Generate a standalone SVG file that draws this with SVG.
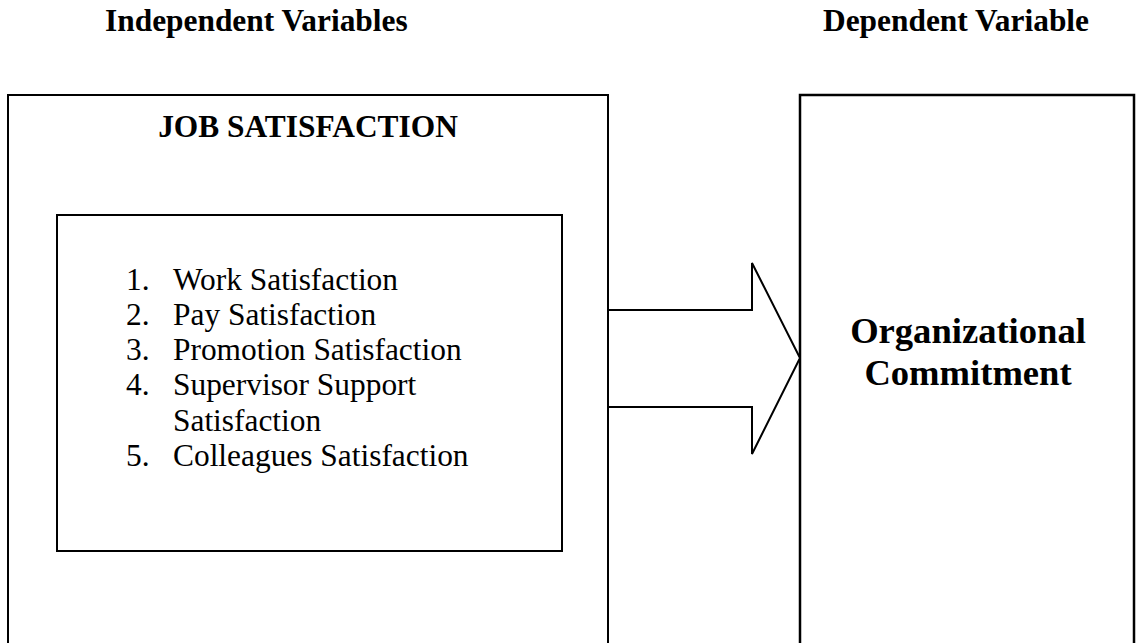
<svg xmlns="http://www.w3.org/2000/svg" width="1136" height="643" viewBox="0 0 1136 643">
<style>
.box{fill:#fff;stroke:#000;stroke-width:2}
.hdr{font-family:"Liberation Serif","Times New Roman",serif;font-weight:bold;font-size:31.4px;fill:#000}
.item{font-family:"Liberation Serif","Times New Roman",serif;font-size:31.4px;fill:#000}
.big{font-family:"Liberation Serif","Times New Roman",serif;font-weight:bold;font-size:36.6px;fill:#000}
</style>
<rect width="1136" height="643" fill="#fff"/>
<g id="headers">
<text class="hdr" x="105" y="31">Independent Variables</text>
<text class="hdr" x="1089" y="31" text-anchor="end">Dependent Variable</text>
</g>
<g id="job-satisfaction">
<rect class="box" x="8" y="95" width="600" height="560"/>
<text class="hdr" x="308" y="137" text-anchor="middle">JOB SATISFACTION</text>
</g>
<g id="dimensions">
<rect class="box" x="57" y="215" width="505" height="336"/>
<g class="item">
<text x="126" y="290">1.</text><text x="173" y="290">Work Satisfaction</text>
<text x="126" y="325">2.</text><text x="173" y="325">Pay Satisfaction</text>
<text x="126" y="360">3.</text><text x="173" y="360">Promotion Satisfaction</text>
<text x="126" y="395">4.</text><text x="173" y="395">Supervisor Support</text>
<text x="173" y="431">Satisfaction</text>
<text x="126" y="466">5.</text><text x="173" y="466">Colleagues Satisfaction</text>
</g>
</g>
<g id="organizational-commitment">
<rect class="box" x="800" y="95" width="334" height="560" style="stroke-width:2.5"/>
<text class="big" x="968" y="343" text-anchor="middle">Organizational</text>
<text class="big" x="968" y="385" text-anchor="middle">Commitment</text>
</g>
<g id="connectors">
<polygon class="box" points="608,310 752,310 752,263 800,358 752,454 752,407 608,407"/>
</g>
</svg>
